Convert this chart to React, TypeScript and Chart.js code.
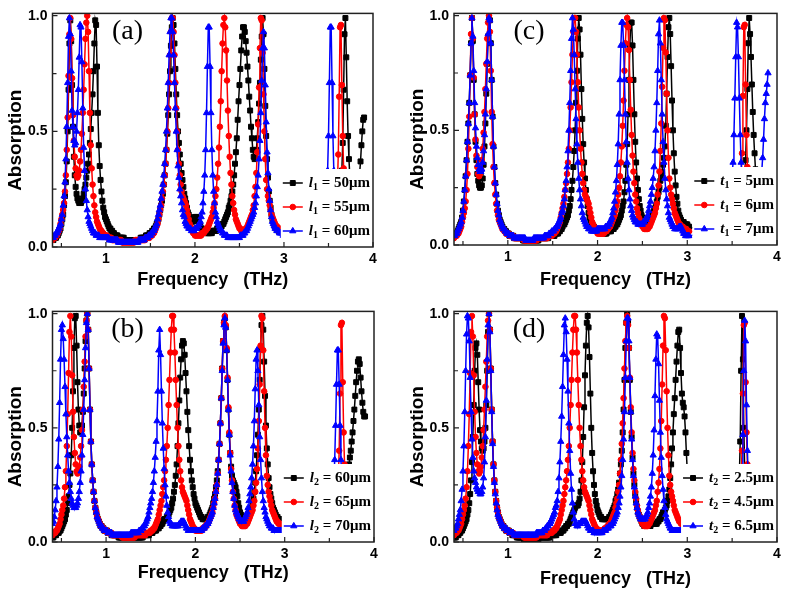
import React, { useEffect, useRef } from 'react';
import { Chart, registerables } from 'chart.js';

Chart.register(...registerables);

// ---------- frequency sampling (THz) ----------
// each series is stored as six segments sampled every 0.01 THz starting at these frequencies
const SEG_START = [0.4, 1.01, 1.56, 2.01, 2.61, 3.4];
const FREQ_STEP = 0.01;
const X_MIN = 0.4;
const X_MAX = 4.0;
const X_TICKS = [1, 2, 3, 4];
const X_MINOR = [0.5, 1.5, 2.5, 3.5];
// absorption in percent
const Y_MIN = 0;
const Y_MAX = 101;
const Y_TICKS = [0, 50, 100];
const Y_MINOR = [25, 75];

// ---------- data (absorption, %) ----------
// default structure: l1 = 55um, l2 = 65um, t1 = 6um, t2 = 4.5um (red in every panel)
const DEFAULT_RED = [
  [3,4,4,4,5,5,6,7,8,10, 12,14,16,19,24,31,42,56,74,92, 99,90,73,57,46,39,34,31,30,31, 33,37,42,49,58,68,79,90,97,100, 93,76,58,44,34,27,22,18,15,13, 11,10,9,8,7,7,6,6,5,5, 5],
  [5,4,4,4,4,4,3,3,3,3,3,3,3, 3,3,3,3,2,2,2,2,2,2,2,2,2,2,2,2,2,2,2,3,3,3,3, 3,3,3,3,3,3,3,3,4,4,4,4,4,5,5,5,6,6,7],
  [8,9,10,12,14,16,18,21,24,27, 31,36,42,50,60,71,83,93,99,99, 93,83,71,60,50,42,36,31,27,24, 22,21,20,19,18,16,14,12,10,9, 8,7,6,6,5],
  [5,5,5,5,5,5,5,6,6,6, 7,7,8,8,9,10,11,12,13,15, 17,19,22,25,30,36,43,52,63,76, 88,96,99,95,85,72,59,48,39,32, 27,22,19,16,14,12,11,10,9,8, 8,7,7,7,7,7,8,8,9,10],
  [11,12,13,14,16,18,22,26,32,41, 53,69,86,99,98,84,66,50,38,29, 25,22,20,18,16,14,13,12,11,10, 9,9,8,8,8,7,7,7,7,6, 6,6],
  [5,5,5,5,5,5,5,6,6,6, 7,7,8,8,9,10,11,13,16,20, 27,40,65,95,96,70,48,34,25,19, 15,12,10,9,8,8,7,7,7,6, 6,6,6,6,6,6,6,6,6,6,6],
];

// (a) l1 = 50um
const A_L1_50 = [
  [3,3,4,4,4,5,5,6,7,8, 10,12,14,18,22,28,37,50,68,88, 98,89,70,52,39,31,26,23,21,20, 19,19,19,20,21,23,25,27,30,33, 36,40,45,51,58,66,76,88,98,96, 78,58,44,35,29,24,20,17,15,13, 12],
  [11,10,9,8,8,7,7,6,6,5,5,5,5, 4,4,4,4,4,4,4,3,3,3,3,3,3,3,3,3,3,3,3,3,3,3,3, 3,3,4,4,4,4,4,4,5,5,5,5,6,6,6,7,7,8,8],
  [9,10,11,12,14,16,18,20,23,27, 31,36,42,49,57,66,76,87,95,99, 96,88,77,66,57,50,45,40,36,32, 29,26,23,21,19,17,15,14,13,12, 11,11,11,12,13],
  [13,13,12,11,10,9,8,8,7,7, 7,6,6,6,6,6,6,6,6,7, 7,7,7,7,8,8,8,8,9,9, 10,10,11,12,13,14,15,17,18,20, 22,24,27,31,36,41,47,55,63,70, 77,85,91,95,95,93,89,84,78,72],
  [65,59,52,47,42,39,38,39,42,47, 54,62,71,81,91,99,92,77,61,48, 38,30,24,20,17,14,12,11,10,9, 8,8,8,7,7,7,7,7,6,6, 6,6],
  [4,4,4,4,4,4,5,5,5,5, 5,5,6,6,6,7,7,8,8,9, 10,12,15,19,25,33,45,68,92,99, 82,63,48,38,30,25,21,19,18,18, 19,20,22,25,28,32,37,44,50,55,56],
];

// (a) l1 = 60um
const A_L1_60 = [
  [4,4,5,5,6,6,7,8,9,10, 12,14,18,22,28,38,52,71,91,99, 92,76,59,52,46,44,45,50,58,68, 82,96,95,80,60,43,33,25,20,16, 13,11,10,9,8,7,6,6,6,5, 5,5,5,4,4,4,4,4,4,4, 4],
  [4,4,4,3,3,3,3,3,3,3,3,3,3, 2,2,2,2,2,2,2,2,2,2,2,2,2,2,2,2,2,2,2,2,2,2,2, 3,3,3,3,3,3,3,4,4,4,4,5,5,5,6,6,7,7,8],
  [9,10,12,14,16,18,21,24,27,31, 36,42,50,60,71,83,93,99,99,93, 83,71,60,50,42,35,30,25,22,19, 16,14,13,11,10,9,9,8,8,8, 7,7,7,7,8],
  [8,8,9,9,10,11,13,15,19,24, 31,42,58,78,95,95,78,58,42,31, 24,19,15,13,11,10,9,8,7,7, 6,6,5,5,5,5,4,4,4,4, 4,4,4,4,4,4,4,4,4,4, 5,5,5,5,6,6,7,7,8,9],
  [10,11,12,13,14,15,17,19,22,26, 31,38,46,58,72,86,93,86,70,54, 41,32,25,20,16,13,11,10,9,8, 8,7,7,7,6,6,6,6,5,5, 5,5],
  [6,6,7,7,9,11,14,18,24,33, 48,71,95,95,71,48,33,24,18,14, 11,9,8,7,6,6,5,5,5,5, 5,5,5,5,5,5,5,5,5,5, 5,5,6,6,6,6,7,7,7,8,8],
];

// (b) l2 = 60um
const B_L2_60 = [
  [2,2,3,3,3,4,4,4,5,5, 6,7,8,9,10,12,14,17,20,25, 30,38,50,66,85,98,99,86,70,58, 51,48,48,51,57,65,76,88,97,100, 93,76,58,44,34,27,22,18,15,13, 11,10,9,8,7,7,6,6,5,5, 5],
  [5,4,4,4,4,3,3,3,3,3,3,3,3, 2,2,2,2,2,2,2,2,2,2,2,2,2,2,2,2,2,2,2,2,2,2,2, 2,2,2,2,2,3,3,3,3,3,3,3,4,4,4,4,5,5,5],
  [5,6,6,6,7,7,8,8,9,10, 10,10,11,11,12,13,14,15,17,19, 22,25,29,34,42,52,62,72,80,86, 88,87,82,74,66,57,49,42,36,31, 27,24,21,19,17],
  [16,15,14,13,12,11,11,10,10,10, 10,10,10,11,11,12,13,14,15,17, 19,21,24,27,31,36,43,52,63,76, 88,96,98,94,84,71,58,47,39,33, 29,27,26,25,24,22,20,17,15,13, 12,11,10,10,9,9,9,10,11,12],
  [13,14,15,17,19,22,26,31,38,47, 58,71,85,95,99,93,79,64,51,41, 34,28,24,21,19,17,15,14,13,12, 11,11,10,10,10,9,9,9,9,9, 9,9],
  [5,5,5,5,5,5,5,6,6,6, 6,7,7,7,8,8,9,9,10,11, 12,13,14,16,18,20,22,24,26,28, 30,32,34,37,40,44,48,53,58,64, 70,75,79,80,78,72,66,61,57,55,55],
];

// (b) l2 = 70um
const B_L2_70 = [
  [8,9,11,14,18,24,33,45,61,80, 93,95,89,80,68,56,46,38,31,26, 22,19,17,16,15,15,15,16,17,19, 22,26,31,38,47,58,71,85,96,100, 93,76,58,44,34,27,22,18,15,13, 11,10,9,8,7,7,6,6,5,5, 5],
  [5,4,4,4,4,4,3,3,3,3,3,3,3, 3,3,3,3,3,3,3,3,3,3,3,3,3,3,4,4,4,4,4,4,4,4,4, 5,5,5,6,6,7,7,8,9,10,11,13,15,17,19,22,26,31,37],
  [44,53,66,84,93,82,66,52,41,32, 25,20,16,13,11,9,8,8,7,7, 7,7,7,7,7,7,8,8,9,9, 9,9,8,7,6,6,5,5,5,5, 5,5,5,5,5],
  [5,5,5,5,5,5,5,6,6,6, 7,7,8,8,9,10,11,12,13,15, 17,19,22,25,30,36,43,52,63,75, 87,95,98,94,84,71,58,47,38,31, 26,22,19,16,14,13,12,11,10,10, 9,9,9,9,10,11,12,13,15,18],
  [21,24,28,34,42,53,67,80,84,75, 60,46,36,28,22,18,15,13,11,10, 9,8,7,7,6,6,6,5,5,5, 5,5,5,5,5,5,5,5,5,5, 5,5],
  [4,4,4,4,5,5,5,6,6,7, 8,9,11,15,19,26,36,51,69,84, 84,69,51,36,26,19,15,12,10,8, 7,7,6,6,6,5,5,5,5,5, 5,5,5,5,5,5,5,5,5,5,5],
];

// (c) t1 = 5um
const C_T1_5 = [
  [4,4,5,5,6,7,8,9,10,12, 15,19,24,30,37,45,53,62,74,88, 99,89,72,57,45,37,31,28,26,25, 25,26,29,35,43,53,66,79,91,99, 98,88,72,56,43,34,27,22,18,15, 13,11,10,9,8,7,7,6,6,5, 5],
  [5,4,4,4,4,4,3,3,3,3,3,3,3, 3,3,3,2,2,2,2,2,2,2,2,2,2,2,2,2,2,2,2,2,2,3,3, 3,3,3,3,3,3,3,3,3,4,4,4,4,4,4,4,5,5,5],
  [5,6,6,7,7,8,9,9,10,11, 12,13,15,17,20,24,28,34,41,50, 62,76,90,99,94,83,68,55,44,36, 29,24,20,17,14,12,11,10,9,8, 8,7,7,7,6],
  [6,6,6,5,5,5,5,5,5,5, 6,6,6,6,6,7,7,7,8,8, 9,9,10,11,12,13,15,17,19,23, 28,35,44,57,72,87,97,97,87,72, 57,45,36,29,24,20,17,15,13,12, 11,11,10,10,10,10,10,11,11,12],
  [13,14,15,16,17,19,21,23,25,28, 30,32,35,38,43,52,66,82,95,99, 92,78,63,50,40,32,26,21,18,15, 13,12,11,10,10,10,9,9,9,9, 8,8],
  [4,4,4,4,4,5,5,5,5,6, 6,6,7,7,8,8,9,10,11,12, 14,16,19,23,29,37,50,68,88,99, 92,82,70,58,48,40,33,27,23,20, 17,15,13,12,11,10,9,9,8,8,8],
];

// (c) t1 = 7um
const C_T1_7 = [
  [4,4,5,5,6,7,8,9,10,12, 15,19,24,30,37,45,53,62,74,88, 99,91,76,62,51,43,38,35,33,32, 32,33,36,41,48,57,68,80,92,99, 98,88,72,56,43,34,27,22,18,15, 13,11,10,9,8,7,7,6,6,5, 5],
  [5,4,4,4,4,4,3,3,3,3,3,3,3, 3,3,3,3,3,3,2,2,2,2,2,2,2,2,2,3,3,3,3,3,3,3,3, 3,3,3,3,4,4,4,4,4,5,5,5,6,6,6,7,7,8,8],
  [9,10,11,12,14,15,17,20,24,28, 34,41,50,62,76,90,99,94,83,68, 55,44,36,29,24,20,17,14,12,11, 10,9,8,8,7,7,7,6,6,6, 6,6,6,6,7],
  [7,7,7,7,7,7,7,7,8,8, 8,9,9,10,11,12,14,16,19,23, 28,35,44,57,72,87,97,97,87,72, 57,45,36,29,24,20,17,15,13,12, 11,10,10,10,9,9,9,9,9,9, 10,10,11,11,12,13,15,17,19,22],
  [25,29,34,41,50,62,76,92,98,88, 72,57,45,36,29,24,20,17,14,12, 11,10,9,8,8,7,7,7,7,7, 8,8,8,7,6,5,5,4,4,4, 4,4],
  [6,6,7,8,9,11,13,15,19,24, 30,36,48,64,82,97,95,82,64,48, 36,28,22,18,15,13,11,10,9,8, 8,7,7,7,7,8,9,10,12,15, 18,22,27,32,38,46,55,62,66,70,75],
];

// (d) t2 = 2.5um
const D_T2_25 = [
  [2,2,2,3,3,3,4,4,5,5, 6,7,8,9,10,12,14,17,21,27, 35,46,60,75,85,87,82,70,58,49, 44,41,40,41,44,50,60,75,92,100, 93,76,58,44,34,27,22,18,15,13, 11,10,9,8,7,7,6,6,5,5, 5],
  [5,4,4,4,3,3,3,3,3,2,2,2,2, 2,2,2,2,1,1,1,1,1,1,1,1,1,1,1,1,1,1,1,1,1,2,2, 2,2,2,2,2,2,2,2,2,2,2,3,3,3,3,3,3,3,4],
  [4,4,4,4,5,5,5,6,6,7, 7,8,8,9,10,11,12,13,14,15, 16,16,16,17,19,22,27,35,46,59, 73,86,96,99,94,81,65,50,39,31, 25,21,18,16,14],
  [13,12,11,11,10,10,10,10,10,10, 10,10,11,11,12,13,14,15,16,18, 19,21,23,26,30,34,40,48,58,71, 85,96,100,96,85,71,57,46,37,30, 25,21,18,15,13,12,11,10,9,8, 8,7,7,7,7,7,7,7,7,8],
  [8,8,8,8,8,8,9,9,10,10, 11,12,13,13,14,15,16,18,20,23, 28,34,41,48,56,63,71,79,86,92, 93,85,74,65,61,59,55,48,39,31, 25,20],
  [4,4,4,4,5,5,5,5,6,6, 7,7,8,9,10,12,15,20,28,44, 75,99,80,50,32,22,17,13,11,10, 9,8,8,7,7,6,6,6,6,5, 5,5,5,5,5,5,5,5,5,5,5],
];

// (d) t2 = 6.5um
const D_T2_65 = [
  [5,6,6,7,8,10,12,14,18,23, 31,42,57,75,91,99,98,88,72,57, 45,37,31,28,26,24,23,22,22,21, 21,22,24,28,35,46,62,80,95,100, 92,75,57,43,33,26,21,17,14,12, 11,10,9,8,7,7,6,6,6,5, 5],
  [5,4,4,4,4,4,3,3,3,3,3,3,3, 3,3,3,3,3,3,3,3,3,3,3,3,3,3,3,3,3,3,4,4,4,4,4, 4,4,5,5,5,6,6,7,7,8,8,9,10,11,12,13,15,16,18],
  [22,28,35,44,55,68,82,95,98,92, 80,66,52,40,30,23,17,13,10,8, 8,7,7,8,8,8,9,9,9,9, 9,9,8,7,6,6,5,5,5,5, 4,4,4,4,4],
  [4,4,4,4,4,5,5,5,5,6, 6,6,7,7,7,8,8,9,10,11, 12,13,15,17,20,24,29,36,45,57, 72,88,98,98,88,72,57,45,36,29, 24,20,17,15,13,12,11,10,10,10, 10,10,10,11,12,13,15,17,20,24],
  [30,38,49,64,80,91,90,78,62,48, 37,29,23,18,15,12,10,9,8,7, 6,6,5,5,5,5,5,5,5,5, 5,5,5,5,5,5,5,5,5,5, 5,5],
  [4,4,4,4,4,4,5,5,5,5, 5,6,6,7,7,8,9,11,13,16, 21,30,47,75,97,88,60,40,28,21, 16,13,11,10,9,8,7,7,6,6, 6,6,6,6,5,5,5,5,5,5,5],
];

// legend labels (black, red, blue)
const A_LEGEND = ['50μm', '55μm', '60μm'];
const B_LEGEND = ['60μm', '65μm', '70μm'];
const C_LEGEND = ['5μm', '6μm', '7μm'];
const D_LEGEND = ['2.5μm', '4.5μm', '6.5μm'];

// ---------- styles ----------
const STYLES = [
  { color: '#000000', pointStyle: 'rect', radius: 3.5 },
  { color: '#ff0000', pointStyle: 'circle', radius: 2.8 },
  { color: '#0000ff', pointStyle: 'triangle', radius: 3.6 },
];
const SANS = '"Liberation Sans", Arial, sans-serif';
const SERIF = '"Liberation Serif", "Times New Roman", serif';

type Area = { l: number; r: number; t: number; b: number };
type PanelCfg = {
  key: string; tag: string; left: number; top: number; w: number; h: number;
  area: Area; xTitleY: number; yTitleX: number; sym: string; sub: string;
  legend: string[]; series: number[][][];
};

const PANELS: PanelCfg[] = [
  { key: 'a', tag: '(a)', left: 0, top: 0, w: 393, h: 298, area: { l: 52.5, r: 373, t: 7.5, b: 247 }, xTitleY: 280, yTitleX: 16, sym: 'l', sub: '1', legend: A_LEGEND, series: [A_L1_50, DEFAULT_RED, A_L1_60] },
  { key: 'c', tag: '(c)', left: 393, top: 0, w: 394, h: 298, area: { l: 61, r: 384, t: 7.5, b: 245 }, xTitleY: 280, yTitleX: 24.5, sym: 't', sub: '1', legend: C_LEGEND, series: [C_T1_5, DEFAULT_RED, C_T1_7] },
  { key: 'b', tag: '(b)', left: 0, top: 298, w: 393, h: 298, area: { l: 52.5, r: 374, t: 5.5, b: 244 }, xTitleY: 275, yTitleX: 16, sym: 'l', sub: '2', legend: B_LEGEND, series: [B_L2_60, DEFAULT_RED, B_L2_70] },
  { key: 'd', tag: '(d)', left: 393, top: 298, w: 394, h: 298, area: { l: 61, r: 384, t: 6, b: 244 }, xTitleY: 281, yTitleX: 24.5, sym: 't', sub: '2', legend: D_LEGEND, series: [D_T2_25, DEFAULT_RED, D_T2_65] },
];

function toPoints(segments: number[][]) {
  const pts: { x: number; y: number }[] = [];
  segments.forEach((seg, k) => {
    seg.forEach((y, i) => {
      pts.push({ x: Math.round((SEG_START[k] + i * FREQ_STEP) * 100) / 100, y });
    });
  });
  return pts;
}

function drawMarker(ctx: CanvasRenderingContext2D, st: { color: string; pointStyle: string; radius: number }, x: number, y: number) {
  const r = st.radius;
  ctx.save();
  ctx.fillStyle = st.color;
  ctx.strokeStyle = st.color;
  ctx.lineWidth = 1;
  ctx.beginPath();
  if (st.pointStyle === 'rect') {
    const s = Math.SQRT1_2 * r;
    ctx.rect(x - s, y - s, 2 * s, 2 * s);
  } else if (st.pointStyle === 'circle') {
    ctx.arc(x, y, r, 0, Math.PI * 2);
  } else {
    let a = 0;
    ctx.moveTo(x + Math.sin(a) * r, y - Math.cos(a) * r);
    a += (2 * Math.PI) / 3;
    ctx.lineTo(x + Math.sin(a) * r, y - Math.cos(a) * r);
    a += (2 * Math.PI) / 3;
    ctx.lineTo(x + Math.sin(a) * r, y - Math.cos(a) * r);
    ctx.closePath();
  }
  ctx.fill();
  ctx.stroke();
  ctx.restore();
}

function makeDecor(cfg: PanelCfg) {
  return {
    id: 'decor_' + cfg.key,
    afterDatasetsDraw(chart: any) {
      const { ctx, chartArea: a } = chart;
      ctx.save();
      const fIt = `italic bold 15px ${SERIF}`;
      const fSub = `bold 10px ${SERIF}`;
      const fTxt = `bold 15px ${SERIF}`;
      const widths = cfg.legend.map((lbl) => {
        ctx.font = fIt;
        let w = ctx.measureText(cfg.sym).width;
        ctx.font = fSub;
        w += ctx.measureText(cfg.sub).width;
        ctx.font = fTxt;
        w += ctx.measureText(' = ' + lbl).width;
        return w;
      });
      const textX = a.right - 3 - Math.max(...widths);
      const x0 = textX - 26;
      const x1 = textX - 6;
      const rowY = [a.bottom - 64, a.bottom - 40, a.bottom - 16];
      ctx.fillStyle = '#ffffff';
      ctx.fillRect(x0 - 2, rowY[0] - 14, a.right - x0 + 2, a.bottom - rowY[0] + 14);
      cfg.legend.forEach((lbl, i) => {
        const st = STYLES[i];
        const y = rowY[i];
        ctx.strokeStyle = st.color;
        ctx.lineWidth = 1.5;
        ctx.beginPath();
        ctx.moveTo(x0, y);
        ctx.lineTo(x1, y);
        ctx.stroke();
        drawMarker(ctx, st, (x0 + x1) / 2, y);
        ctx.fillStyle = '#000';
        ctx.textAlign = 'left';
        ctx.textBaseline = 'middle';
        let x = textX;
        ctx.font = fIt;
        ctx.fillText(cfg.sym, x, y);
        x += ctx.measureText(cfg.sym).width;
        ctx.font = fSub;
        ctx.fillText(cfg.sub, x, y + 4);
        x += ctx.measureText(cfg.sub).width;
        ctx.font = fTxt;
        ctx.fillText(' = ' + lbl, x, y);
      });
      ctx.restore();
    },
    afterDraw(chart: any) {
      const { ctx, chartArea: a, scales } = chart;
      const xs = scales.x;
      const ys = scales.y;
      ctx.save();
      // frame
      ctx.strokeStyle = '#222';
      ctx.lineWidth = 1.5;
      ctx.strokeRect(a.left, a.top, a.right - a.left, a.bottom - a.top);
      // inward ticks
      ctx.lineWidth = 1.2;
      ctx.beginPath();
      X_TICKS.concat(X_MINOR).forEach((v) => {
        const px = xs.getPixelForValue(v);
        const len = X_TICKS.includes(v) ? 5 : 4;
        ctx.moveTo(px, a.bottom);
        ctx.lineTo(px, a.bottom - len);
      });
      Y_TICKS.concat(Y_MINOR).forEach((v) => {
        const py = ys.getPixelForValue(v);
        const len = Y_TICKS.includes(v) ? 5 : 4;
        ctx.moveTo(a.left, py);
        ctx.lineTo(a.left + len, py);
      });
      ctx.stroke();
      // axis titles
      ctx.fillStyle = '#000';
      ctx.textAlign = 'center';
      ctx.textBaseline = 'middle';
      ctx.font = `bold 18px ${SANS}`;
      ctx.fillText('Frequency   (THz)', (a.left + a.right) / 2, cfg.xTitleY);
      ctx.save();
      ctx.translate(cfg.yTitleX, (a.top + a.bottom) / 2 + 10);
      ctx.rotate(-Math.PI / 2);
      ctx.font = `bold 19px ${SANS}`;
      ctx.fillText('Absorption', 0, 0);
      ctx.restore();
      // panel tag
      ctx.font = `28px ${SERIF}`;
      ctx.fillText(cfg.tag, a.left + 75, a.top + 18.5);
      ctx.restore();
    },
  };
}

function Panel({ cfg }: { cfg: PanelCfg }) {
  const ref = useRef<HTMLCanvasElement | null>(null);
  useEffect(() => {
    if (!ref.current) return;
    const tickFont = { family: SANS, size: 14, weight: 'bold' as const };
    const chart = new Chart(ref.current, {
      type: 'line',
      data: {
        datasets: cfg.series.map((segs, i) => ({
          label: cfg.legend[i],
          data: toPoints(segs),
          borderColor: STYLES[i].color,
          backgroundColor: STYLES[i].color,
          pointBackgroundColor: STYLES[i].color,
          pointBorderColor: STYLES[i].color,
          pointStyle: STYLES[i].pointStyle as any,
          pointRadius: STYLES[i].radius,
          pointBorderWidth: 1,
          borderWidth: 1.5,
          tension: 0,
          order: 2 - i,
        })),
      },
      options: {
        responsive: false,
        animation: false,
        devicePixelRatio: 1,
        events: [],
        parsing: false,
        layout: { padding: { left: 0, top: cfg.area.t, right: cfg.w - cfg.area.r, bottom: 0 } },
        plugins: { legend: { display: false }, tooltip: { enabled: false } },
        scales: {
          x: {
            type: 'linear',
            min: X_MIN,
            max: X_MAX,
            grid: { display: false, drawTicks: false },
            border: { display: false },
            ticks: { font: tickFont, color: '#000', padding: 4, maxRotation: 0, autoSkip: false, callback: (v: any) => String(v) },
            afterBuildTicks: (s: any) => { s.ticks = X_TICKS.map((v) => ({ value: v })); },
            afterFit: (s: any) => { s.height = cfg.h - cfg.area.b; },
          },
          y: {
            type: 'linear',
            min: Y_MIN,
            max: Y_MAX,
            grid: { display: false, drawTicks: false },
            border: { display: false },
            ticks: { font: tickFont, color: '#000', padding: 5, autoSkip: false, callback: (v: any) => (Number(v) / 100).toFixed(1) },
            afterBuildTicks: (s: any) => { s.ticks = Y_TICKS.map((v) => ({ value: v })); },
            afterFit: (s: any) => { s.width = cfg.area.l; },
          },
        },
      } as any,
      plugins: [makeDecor(cfg) as any],
    });
    return () => chart.destroy();
  }, [cfg]);
  return (
    <canvas
      ref={ref}
      width={cfg.w}
      height={cfg.h}
      style={{ position: 'absolute', left: cfg.left, top: cfg.top, width: cfg.w, height: cfg.h }}
    />
  );
}

export default function App() {
  return (
    <div style={{ position: 'absolute', left: 0, top: 0, width: 787, height: 596, background: '#ffffff', overflow: 'hidden' }}>
      {PANELS.map((p) => (
        <Panel key={p.key} cfg={p} />
      ))}
    </div>
  );
}
